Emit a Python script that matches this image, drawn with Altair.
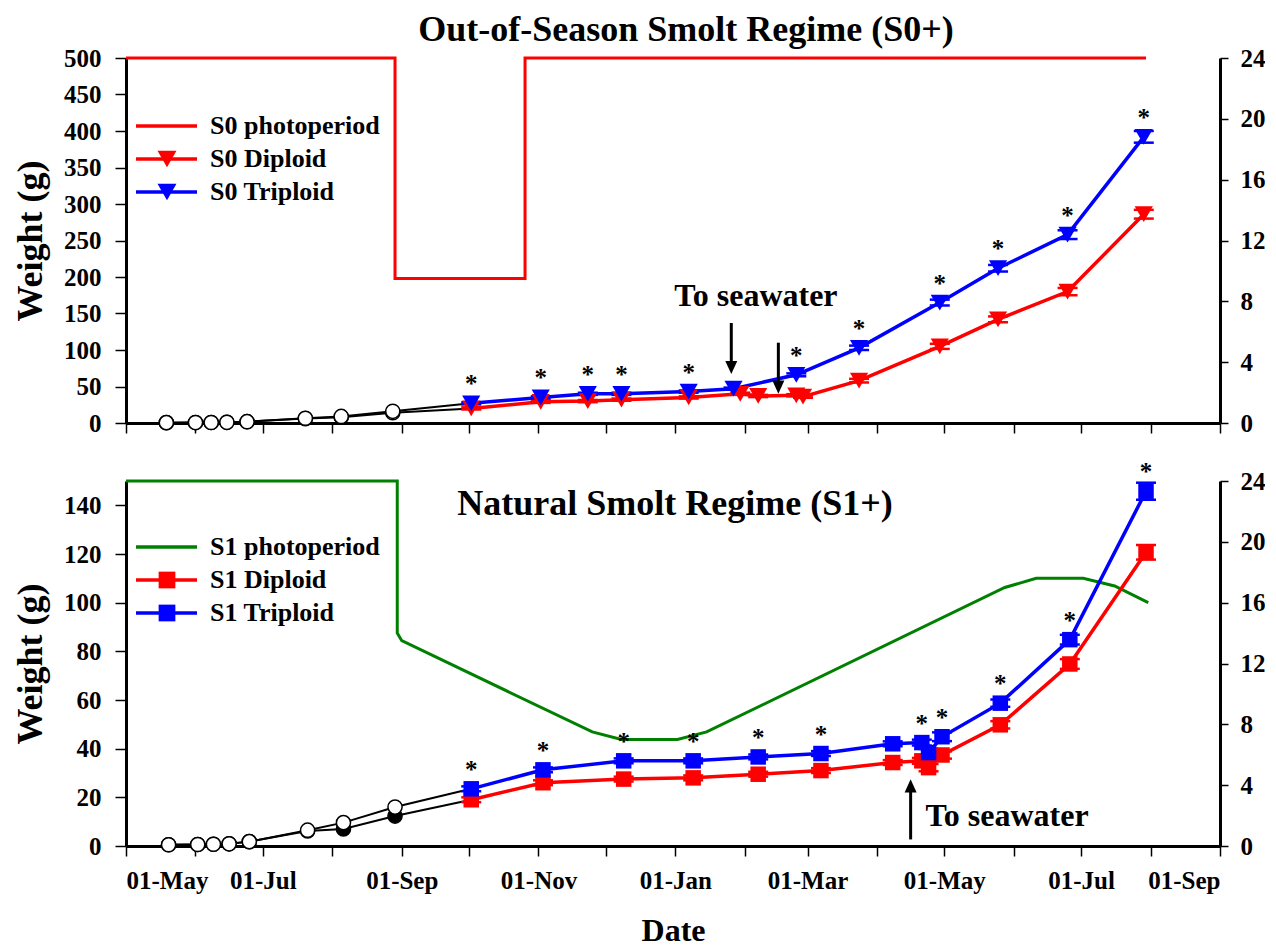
import altair as alt
import pandas as pd

FONT = "Liberation Serif"
RED, BLUE, GREEN = "#FF0000", "#0000FF", "#008000"

# ---------------- data: Out-of-Season regime (S0+) ----------------
s0_photo_dates = ["2006-05-01", "2006-08-29", "2006-08-29", "2006-10-26", "2006-10-26", "2007-07-30"]
s0_photo_hours = [24, 24, 9.5, 9.5, 24, 24]

s0_pre_dates = ["2006-05-19", "2006-06-01", "2006-06-08", "2006-06-15", "2006-06-24",
                "2006-07-20", "2006-08-05", "2006-08-28"]
s0_pre_diploid = [0.5, 0.6, 0.7, 0.9, 1.8, 6.0, 8.0, 14.0]
s0_pre_triploid = [0.5, 0.6, 0.7, 0.9, 1.8, 6.5, 9.0, 16.0]

s0_dip_dates = ["2006-10-02", "2006-11-02", "2006-11-23", "2006-12-08", "2007-01-07", "2007-01-30",
                "2007-02-07", "2007-02-24", "2007-02-27", "2007-03-24", "2007-04-29", "2007-05-25",
                "2007-06-25", "2007-07-29"]
s0_dip_weight = [20, 29, 30, 32, 35, 40, 37, 38, 36, 58, 105, 142, 180, 286]
s0_dip_se = [1.5, 1.5, 1.5, 1.5, 1.5, 1.5, 1.5, 1.5, 1.5, 2.5, 3.5, 4.0, 5.0, 6.0]

s0_trip_dates = ["2006-10-02", "2006-11-02", "2006-11-23", "2006-12-08", "2007-01-07", "2007-01-27",
                 "2007-02-24", "2007-03-24", "2007-04-29", "2007-05-25", "2007-06-25", "2007-07-29"]
s0_trip_weight = [27, 35, 40, 40, 43, 47, 66, 103, 165, 212, 258, 392]
s0_trip_se = [1.5, 1.5, 1.5, 1.5, 1.5, 1.5, 2.0, 3.0, 4.0, 4.5, 6.0, 8.0]
s0_trip_signif = [1, 1, 1, 1, 1, 0, 1, 1, 1, 1, 1, 1]

s0_arrow_dates = ["2007-01-26", "2007-02-16"]
s0_arrow_from = [137, 110]
s0_arrow_to = [67, 40]
s0_note_date, s0_note_weight = "2007-02-06", 174

# ---------------- data: Natural regime (S1+) ----------------
s1_photo_dates = ["2006-05-01", "2006-08-30", "2006-08-30", "2006-09-01", "2006-11-25", "2006-12-08",
                  "2007-01-02", "2007-01-15", "2007-05-28", "2007-06-11", "2007-07-02", "2007-07-16",
                  "2007-07-31"]
s1_photo_hours = [24, 24, 14.0, 13.5, 7.5, 7.0, 7.0, 7.5, 17.0, 17.6, 17.6, 17.1, 16.0]

s1_pre_dates = ["2006-05-20", "2006-06-02", "2006-06-09", "2006-06-16", "2006-06-25",
                "2006-07-21", "2006-08-06", "2006-08-29"]
s1_pre_diploid = [0.5, 0.6, 0.7, 0.9, 1.8, 6.2, 7.0, 12.3]
s1_pre_triploid = [0.5, 0.6, 0.7, 0.9, 1.8, 6.5, 9.6, 16.0]

s1_dates = ["2006-10-02", "2006-11-03", "2006-12-09", "2007-01-09", "2007-02-07", "2007-03-07",
            "2007-04-08", "2007-04-21", "2007-04-24", "2007-04-30", "2007-05-26", "2007-06-26",
            "2007-07-30"]
s1_dip_weight = [19, 26, 27.5, 28, 29.5, 31, 34.3, 35, 32.2, 37.4, 49.8, 74.8, 120.7]
s1_dip_se = [1.0, 1.0, 1.0, 1.0, 1.0, 1.0, 1.0, 1.2, 1.5, 1.5, 1.5, 2.0, 3.0]
s1_trip_weight = [23.5, 31.3, 35, 35, 36.6, 38, 42, 42.5, 38.4, 44.9, 58.7, 84.8, 145.8]
s1_trip_se = [1.0, 1.0, 1.0, 1.0, 1.0, 1.0, 1.0, 1.2, 1.5, 1.8, 1.5, 2.0, 3.5]
s1_trip_signif = [1, 1, 1, 1, 1, 1, 0, 1, 0, 1, 1, 1, 1]

s1_arrow_dates = ["2007-04-16"]
s1_arrow_from = [2.7]
s1_arrow_to = [27.4]
s1_note_date, s1_note_weight = "2007-05-29", 12.3

# ---------------- axes / scales ----------------
month_list = [(2006, m) for m in range(5, 13)] + [(2007, m) for m in range(1, 10)]
MONTH_TICKS = [alt.DateTime(year=y, month=m, date=1, utc=True) for (y, m) in month_list]
XSCALE = alt.Scale(type="utc", domain=[MONTH_TICKS[0], MONTH_TICKS[-1]])

ARROW_DOWN = "M-1,-2.2L1,-2.2L0,0Z"
ARROW_UP = "M-1,2.2L1,2.2L0,0Z"

# legend layout (pixels inside each plot area)
LEG_LINE_X0, LEG_LINE_X1, LEG_SYM_X, LEG_TEXT_X = 10, 71, 41, 84
LEG_ROW_STEP = 33


def x_enc(show):
    if show:
        ax = alt.Axis(values=MONTH_TICKS, labelOverlap=False, labelPadding=12,
                      labelExpr="utcmonth(datum.value) % 2 == 0 ? utcFormat(datum.value, '%d-%b') : ''",
                      titlePadding=22, titleFontSize=32)
        return alt.X("date:T", scale=XSCALE, axis=ax, title="Date")
    ax = alt.Axis(values=MONTH_TICKS, labels=False)
    return alt.X("date:T", scale=XSCALE, axis=ax, title=None)


def make_panel(tag, photo_dates, photo_hours, photo_color, pre_dates, pre_dip, pre_trip, dip_pre_fill,
               dip_dates, dip_w, dip_se, trip_dates, trip_w, trip_se, trip_sig,
               arrow_dates, arrow_from, arrow_to, arrow_path, arrow_off, note_date, note_w,
               wmax, wticks, marker, marker_size, leg_marker_size, show_x, title_text, leg_y0):
    names = [f"{tag} photoperiod", f"{tag} Diploid", f"{tag} Triploid"]
    palette = [photo_color, RED, BLUE]
    cscale = alt.Scale(domain=names, range=palette)
    X = x_enc(show_x)
    yax = alt.Axis(values=wticks, labelPadding=14, titlePadding=14, tickSize=11, titleFontSize=36)

    def Y(field):
        return alt.Y(f"{field}:Q", scale=alt.Scale(domain=[0, wmax]), axis=yax, title="Weight (g)")

    color_nl = alt.Color("series:N", scale=cscale, legend=None)

    photo = pd.DataFrame({"date": photo_dates, "h": photo_hours, "series": names[0],
                          "order": list(range(len(photo_dates)))})
    dip = pd.DataFrame({"date": dip_dates, "w": dip_w, "se": dip_se, "series": names[1]})
    trip = pd.DataFrame({"date": trip_dates, "w": trip_w, "se": trip_se, "series": names[2],
                         "sig": trip_sig})
    pts = pd.concat([dip, trip], ignore_index=True)
    pts["lo"] = pts["w"] - pts["se"]
    pts["hi"] = pts["w"] + pts["se"]

    pre_d = pd.DataFrame({"date": pre_dates + [dip_dates[0]], "w": pre_dip + [dip_w[0]], "grp": "d"})
    pre_t = pd.DataFrame({"date": pre_dates + [trip_dates[0]], "w": pre_trip + [trip_w[0]], "grp": "t"})
    pre_lines_df = pd.concat([pre_d, pre_t], ignore_index=True)
    circ_d = pd.DataFrame({"date": pre_dates, "w": pre_dip})
    circ_t = pd.DataFrame({"date": pre_dates, "w": pre_trip})

    arrows = pd.DataFrame({"date": arrow_dates, "w": arrow_from, "w2": arrow_to})
    note = pd.DataFrame({"date": [note_date], "w": [note_w], "label": ["To seawater"]})

    photo_line = alt.Chart(photo).mark_line(strokeWidth=3).encode(
        x=X,
        y=alt.Y("h:Q", scale=alt.Scale(domain=[0, 24]),
                axis=alt.Axis(orient="right", values=[0, 4, 8, 12, 16, 20, 24], tickSize=8, labelPadding=12),
                title=None),
        color=color_nl, order="order:Q")

    pre_lines = alt.Chart(pre_lines_df).mark_line(color="black", strokeWidth=2).encode(
        x=X, y=Y("w"), detail="grp:N")
    lines = alt.Chart(pts).mark_line(strokeWidth=3.5).encode(x=X, y=Y("w"), color=color_nl)
    err = alt.Chart(pts).mark_rule(strokeWidth=2).encode(x=X, y=Y("lo"), y2="hi:Q", color=color_nl)
    caps = alt.Chart(pts).transform_fold(["lo", "hi"], as_=["end", "v"]).mark_tick(
        orient="horizontal", size=20, thickness=2.5, opacity=1).encode(x=X, y=Y("v"), color=color_nl)
    circles_d = alt.Chart(circ_d).mark_circle(size=200, stroke="black", strokeWidth=1.5, opacity=1,
                                              fill=dip_pre_fill).encode(x=X, y=Y("w"))
    circles_t = alt.Chart(circ_t).mark_circle(size=200, stroke="black", strokeWidth=1.5, opacity=1,
                                              fill="white").encode(x=X, y=Y("w"))
    points = alt.Chart(pts).mark_point(shape=marker, filled=True, size=marker_size, opacity=1).encode(
        x=X, y=Y("w"), color=color_nl)
    aster = alt.Chart(trip).transform_filter("datum.sig == 1").mark_text(
        text="*", font=FONT, fontSize=25, fontWeight="bold", color="black", dy=-11,
        baseline="alphabetic").encode(x=X, y=Y("w"))
    arrow_rule = alt.Chart(arrows).mark_rule(strokeWidth=3, color="black", y2Offset=arrow_off).encode(
        x=X, y=Y("w"), y2="w2:Q")
    arrow_head = alt.Chart(arrows).mark_point(shape=arrow_path, size=144, filled=True, color="black",
                                              opacity=1).encode(x=X, y=Y("w2"))
    note_txt = alt.Chart(note).mark_text(font=FONT, fontSize=32, fontWeight="bold", color="black",
                                         baseline="middle").encode(x=X, y=Y("w"), text="label:N")

    layers = [pre_lines, lines, err, caps, circles_d, circles_t, points, aster, arrow_rule, arrow_head,
              note_txt]
    if title_text is not None:
        ttl = pd.DataFrame({"t": [title_text]})
        layers.append(alt.Chart(ttl).mark_text(font=FONT, fontSize=36, fontWeight="bold", color="black",
                                               baseline="middle", align="center").encode(
            x=alt.value(549), y=alt.value(23), text="t:N"))
    weights = alt.layer(*layers)

    # legend (key) drawn inside the plot area, top-left
    key = pd.DataFrame({"label": names, "col": palette, "row": [0, 1, 2],
                        "py": [leg_y0 + i * LEG_ROW_STEP for i in range(3)]})
    key_y = alt.Y("py:Q", scale=None, axis=None)
    key_col = alt.Color("col:N", scale=None)
    key_lines = alt.Chart(key).mark_rule(strokeWidth=3.5).encode(
        x=alt.value(LEG_LINE_X0), x2=alt.value(LEG_LINE_X1), y=key_y, color=key_col)
    key_marks = alt.Chart(key).transform_filter("datum.row > 0").mark_point(
        shape=marker, filled=True, size=leg_marker_size, opacity=1).encode(
        x=alt.value(LEG_SYM_X), y=key_y, color=key_col)
    key_text = alt.Chart(key).mark_text(font=FONT, fontSize=26, fontWeight="bold", color="black",
                                        align="left", baseline="middle").encode(
        x=alt.value(LEG_TEXT_X), y=key_y, text="label:N")

    return alt.layer(photo_line, weights, key_lines, key_marks, key_text).resolve_scale(
        y="independent", color="independent").properties(width=1094, height=365)


top = make_panel(
    "S0", s0_photo_dates, s0_photo_hours, RED, s0_pre_dates, s0_pre_diploid, s0_pre_triploid, "white",
    s0_dip_dates, s0_dip_weight, s0_dip_se, s0_trip_dates, s0_trip_weight, s0_trip_se, s0_trip_signif,
    s0_arrow_dates, s0_arrow_from, s0_arrow_to, ARROW_DOWN, -12, s0_note_date, s0_note_weight,
    500, list(range(0, 501, 50)), "triangle-down", 330, 360, False, None, 68
).properties(title=alt.TitleParams("Out-of-Season Smolt Regime (S0+)", font=FONT, fontSize=36,
                                   fontWeight="bold", color="black", anchor="middle", frame="group",
                                   offset=-3, dx=13))

bottom = make_panel(
    "S1", s1_photo_dates, s1_photo_hours, GREEN, s1_pre_dates, s1_pre_diploid, s1_pre_triploid, "black",
    s1_dates, s1_dip_weight, s1_dip_se, s1_dates, s1_trip_weight, s1_trip_se, s1_trip_signif,
    s1_arrow_dates, s1_arrow_from, s1_arrow_to, ARROW_UP, 12, s1_note_date, s1_note_weight,
    150, list(range(0, 141, 20)), "square", 240, 280, True, "Natural Smolt Regime (S1+)", 66)

chart = alt.vconcat(top, bottom, spacing=24).resolve_scale(
    color="independent").properties(
    padding={"left": 4, "top": 4, "right": 0, "bottom": 0}
).configure_view(stroke=None).configure_axis(
    grid=False, domainColor="black", domainWidth=3, tickColor="black", tickWidth=1.5, tickSize=10,
    labelFont=FONT, labelFontSize=25, labelFontWeight="bold", labelColor="black",
    titleFont=FONT, titleFontSize=32, titleFontWeight="bold", titleColor="black")

chart.save("out.html", embed_options={"renderer": "svg", "actions": False})
